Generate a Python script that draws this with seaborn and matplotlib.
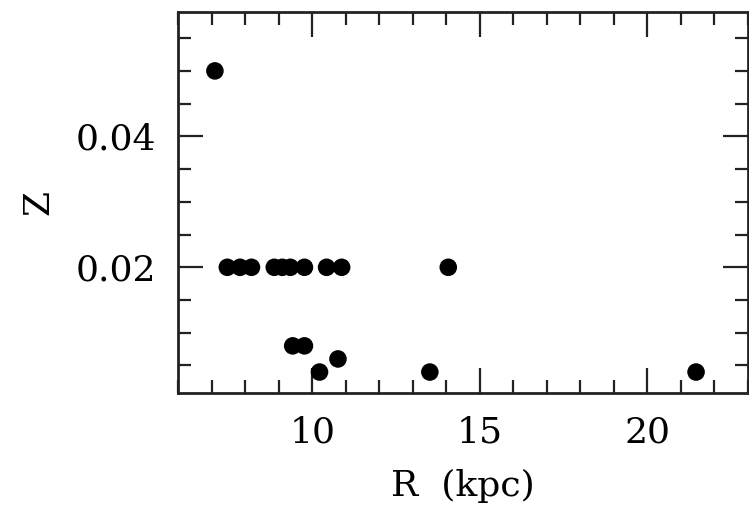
import matplotlib
matplotlib.use("Agg")
import matplotlib.pyplot as plt
from matplotlib.ticker import MultipleLocator, FormatStrFormatter
import pandas as pd
import seaborn as sns

# values
r_kpc = [7.1, 7.47, 7.85, 8.19, 8.87, 9.11, 9.35, 9.77, 10.43, 10.88, 14.06,
         9.42, 9.77, 10.22, 10.77, 13.51, 21.45]
z = [0.05, 0.02, 0.02, 0.02, 0.02, 0.02, 0.02, 0.02, 0.02, 0.02, 0.02,
     0.008, 0.008, 0.004, 0.006, 0.004, 0.004]

data = pd.DataFrame({'R': r_kpc, 'Z': z})

sns.set_style("ticks")
plt.rcParams['font.family'] = ['DejaVu Serif']
plt.rcParams['text.color'] = 'black'
plt.rcParams['xtick.color'] = 'black'
plt.rcParams['ytick.color'] = 'black'
plt.rcParams['axes.labelcolor'] = 'black'

fig = plt.figure(figsize=(7.49, 5.08), dpi=100)
ax = fig.add_axes([0.2377, 0.2264, 0.761, 0.75])

sns.scatterplot(data=data, x='R', y='Z', ax=ax, color='black', s=160,
                edgecolor='none', legend=False)

ax.set_xlim(6, 23)
ax.set_ylim(0.0008, 0.059)
ax.xaxis.set_major_locator(MultipleLocator(5))
ax.xaxis.set_minor_locator(MultipleLocator(1))
ax.yaxis.set_major_locator(MultipleLocator(0.02))
ax.yaxis.set_minor_locator(MultipleLocator(0.005))
ax.yaxis.set_major_formatter(FormatStrFormatter('%.2f'))

ax.tick_params(which='both', direction='in', top=True, right=True,
               width=1.6, color='#222222', labelsize=26)
ax.tick_params(which='major', length=18, pad=16)
ax.tick_params(which='minor', length=9.5)
for sp in ax.spines.values():
    sp.set_linewidth(2)
    sp.set_color('#222222')

ax.set_xlabel('R  (kpc)', fontsize=26, labelpad=14)
ax.set_ylabel('Z', fontsize=26)
ax.yaxis.set_label_coords(-0.215, 0.5)

fig.savefig('out.png', dpi=100)
